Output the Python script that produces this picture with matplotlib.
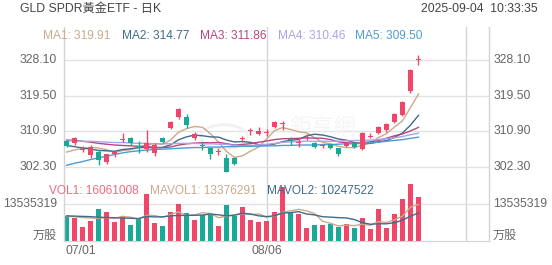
import matplotlib
matplotlib.use('Agg')
import matplotlib.pyplot as plt
from matplotlib.patches import Circle

# daily candles, 45 sessions
opens = [308.5, 308.05, 306.5, 305.2, 305.9, 303.5, 305.5, 308.9, 309.3, 307.3,
         306.6, 305.6, 309.3, 311.7, 314.3, 314.3, 309.3, 307.7, 306.8, 306.0,
         304.4, 304.4, 309.1, 310.9, 310.3, 310.6, 311.9, 312.7, 309.1, 308.0,
         309.4, 308.05, 307.3, 307.8, 306.8, 307.3, 308.05, 306.6, 309.5, 310.5,
         311.2, 313.1, 314.8, 320.6, 328.2]
highs = [308.8, 309.5, 307.3, 307.6, 306.4, 305.4, 306.4, 310.5, 309.5, 308.5,
         311.2, 308.1, 309.5, 313.3, 316.5, 315.1, 310.7, 308.3, 306.8, 306.8,
         305.4, 304.6, 309.7, 311.7, 311.9, 311.4, 313.3, 313.3, 309.5, 309.3,
         310.2, 308.3, 307.8, 308.0, 306.9, 308.3, 308.3, 310.7, 310.5, 312.1,
         312.8, 315.3, 318.1, 325.9, 329.3]
lows = [307.1, 307.6, 306.0, 304.4, 302.7, 303.0, 304.7, 308.3, 307.6, 305.6,
        305.9, 304.9, 308.1, 311.5, 313.8, 311.7, 308.8, 306.4, 304.2, 305.15,
        301.0, 302.8, 308.3, 309.9, 310.1, 309.7, 311.7, 311.2, 307.6, 307.1,
        308.8, 306.8, 307.0, 306.6, 305.0, 307.1, 306.9, 306.4, 309.4, 310.3,
        310.7, 312.9, 314.6, 320.1, 326.9]
closes = [307.3, 309.3, 306.7, 307.1, 303.95, 305.4, 305.8, 309.1, 308.1, 306.8,
          308.1, 307.6, 308.3, 313.1, 316.3, 312.4, 310.2, 307.4, 305.4, 306.2,
          301.05, 303.0, 309.3, 311.1, 311.0, 310.8, 313.1, 313.0, 308.9, 308.2,
          309.6, 307.1, 307.4, 306.9, 305.4, 308.05, 307.1, 310.5, 309.6, 311.9,
          312.6, 315.1, 317.95, 325.7, 328.4]

# moving average lines
ma1 = [305.9, 306.4, 306.8, 307.0, 306.87, 306.49, 305.79, 306.27, 306.47, 307.04,
       307.58, 307.94, 307.78, 308.78, 310.68, 311.54, 312.06, 311.88, 310.34, 308.32,
       306.05, 304.61, 304.99, 306.13, 307.09, 309.04, 311.06, 311.8, 311.36, 310.8,
       310.56, 309.36, 308.24, 307.84, 307.28, 306.97, 306.97, 307.59, 308.13, 309.43,
       310.34, 311.94, 313.43, 316.65, 319.91]
ma2 = [307.5, 307.2, 306.9, 306.6, 306.3, 306.2, 306.1, 306.5, 306.7, 306.96,
       307.04, 306.87, 307.03, 307.63, 308.86, 309.56, 310.0, 309.83, 309.56, 309.5,
       308.8, 308.34, 308.44, 308.24, 307.7, 307.55, 307.84, 308.4, 308.75, 308.95,
       309.8, 310.21, 310.02, 309.6, 309.04, 308.77, 308.17, 307.92, 307.99, 308.36,
       308.66, 309.46, 310.51, 312.39, 314.77]
ma3 = [308.8, 308.7, 308.5, 308.3, 308.0, 307.8, 307.6, 307.5, 307.4, 307.3,
       307.27, 307.04, 306.97, 307.12, 307.58, 307.88, 308.05, 308.17, 308.13, 308.23,
       307.92, 307.6, 307.73, 307.93, 308.28, 308.55, 308.92, 309.11, 309.15, 309.22,
       309.3, 309.27, 309.23, 308.92, 308.37, 308.16, 308.0, 308.16, 308.37, 308.66,
       309.23, 309.83, 310.27, 311.0, 311.86]
ma4 = [308.6, 308.6, 308.5, 308.5, 308.4, 308.3, 308.2, 308.2, 308.1, 308.0,
       308.0, 307.9, 307.9, 307.9, 308.0, 308.0, 308.0, 307.9, 307.9, 307.8,
       307.78, 307.47, 307.46, 307.49, 307.62, 307.77, 307.98, 308.24, 308.34, 308.47,
       308.55, 308.47, 308.5, 308.49, 308.53, 308.63, 308.67, 308.72, 308.77, 308.94,
       309.09, 309.34, 309.66, 310.08, 310.46]
ma5 = [302.7, 303.2, 303.6, 304.1, 304.5, 304.9, 305.3, 305.7, 306.0, 306.2,
       306.4, 306.5, 306.6, 306.7, 306.8, 306.9, 307.0, 307.0, 307.1, 307.1,
       307.2, 307.2, 307.3, 307.3, 307.3, 307.4, 307.4, 307.5, 307.5, 307.6,
       307.6, 307.6, 307.7, 307.7, 307.8, 307.9, 307.9, 308.0, 308.1, 308.3,
       308.5, 308.7, 308.9, 309.2, 309.5]

# volume in millions of shares
volumes = [9.3, 8.3, 5.2, 7.3, 11.6, 10.5, 6.9, 8.9, 5.7, 8.3,
           17.2, 6.5, 5.5, 10.7, 13.4, 10.4, 7.6, 9.5, 9.5, 5.6,
           13.2, 9.3, 12.5, 7.7, 6.9, 7.4, 10.7, 19.9, 10.1, 9.8,
           4.6, 5.9, 5.9, 6.1, 5.0, 6.2, 4.9, 8.5, 4.3, 11.6,
           4.6, 9.8, 15.2, 20.7, 16.06]
mavol1 = [9.0, 8.9, 8.6, 8.4, 8.34, 8.58, 8.3, 9.04, 8.72, 8.06,
          9.4, 9.32, 8.64, 9.64, 10.66, 9.3, 9.52, 10.32, 10.08, 8.52,
          9.08, 9.42, 10.02, 9.66, 9.92, 8.76, 9.04, 10.52, 11.0, 11.58,
          11.02, 10.06, 7.26, 6.46, 5.5, 5.82, 5.62, 6.14, 5.78, 7.1,
          6.78, 7.76, 9.1, 12.38, 13.38]
mavol2 = [9.2, 9.1, 9.0, 8.9, 8.7, 8.6, 8.5, 8.4, 8.3, 8.2,
          8.99, 8.81, 8.84, 9.18, 9.36, 9.35, 9.42, 9.48, 9.86, 9.59,
          9.19, 9.47, 10.17, 9.87, 9.22, 8.92, 9.23, 10.27, 10.33, 10.75,
          9.89, 9.55, 8.89, 8.73, 8.54, 8.42, 7.84, 6.7, 6.12, 6.3,
          6.3, 6.69, 7.62, 9.08, 10.25]

price_ticks = [302.30, 310.90, 319.50, 328.10]
vol_tick = 13535319
date_labels = ['07/01', '08/06']
date_pos = [0, 25]

title = 'GLD SPDR黃金ETF - 日K'
stamp = '2025-09-04  10:33:35'
ma_names = ['MA1', 'MA2', 'MA3', 'MA4', 'MA5']
vol_names = ['VOL1', 'MAVOL1', 'MAVOL2']
vol_values = [16061008, 13376291, 10247522]

RED = '#f0466a'
GREEN = '#18a999'
MA_COLORS = ['#cba98c', '#3f6c8c', '#b4487f', '#aaa3ea', '#4c9dd6']
GRID = '#e2e2e2'
FRAME = '#d4d4d4'
LABEL = '#666666'

W, H = 552.0, 265.0


def fx(px):
    return px / W


def fy(py):
    return 1 - py / H


def style_axes(ax):
    for side in ['top', 'bottom']:
        ax.spines[side].set_visible(False)
    for side in ['left', 'right']:
        ax.spines[side].set_color(FRAME)
        ax.spines[side].set_linewidth(1)
    ax.tick_params(left=False, bottom=False, labelleft=False, labelbottom=False)
    ax.set_xlim(-0.3125, 52.8125)
    for p in [25, 50]:
        ax.axvline(p, color=FRAME, lw=1, zorder=0)


def main():
    plt.rcParams['font.family'] = ['Liberation Sans', 'Noto Sans CJK TC', 'DejaVu Sans']
    fig = plt.figure(figsize=(5.52, 2.65), dpi=100)

    axp = fig.add_axes([fx(64), fy(175), fx(489) - fx(64), fy(27) - fy(175)])
    axv = fig.add_axes([fx(64), fy(241), fx(489) - fx(64), fy(175) - fy(241)])
    style_axes(axp)
    style_axes(axv)

    # price scale: 328.10 at y=60px, 302.30 at y=167px
    k = (167 - 60) / (328.10 - 302.30)
    axp.set_ylim(328.10 - (175 - 60) / k, 328.10 + (60 - 27) / k)
    axv.set_ylim(0, 66 / (37 / (vol_tick / 1e6)))
    axv.spines['bottom'].set_visible(True)
    axv.spines['bottom'].set_color(FRAME)

    for t in price_ticks:
        axp.axhline(t, color=GRID, lw=1, zorder=0)
        axp.annotate('%.2f' % t, xy=(0, t), xycoords=('axes fraction', 'data'),
                     xytext=(-5, 0), textcoords='offset points', ha='right', va='center',
                     fontsize=8.7, color=LABEL)
        axp.annotate('%.2f' % t, xy=(1, t), xycoords=('axes fraction', 'data'),
                     xytext=(3, 0), textcoords='offset points', ha='left', va='center',
                     fontsize=8.7, color=LABEL)
    axv.axhline(vol_tick / 1e6, color=GRID, lw=1, zorder=0)
    for xa, off, ha in [(0, -5, 'right'), (1, 3, 'left')]:
        axv.annotate(str(vol_tick), xy=(xa, vol_tick / 1e6), xycoords=('axes fraction', 'data'),
                     xytext=(off, 0), textcoords='offset points', ha=ha, va='center',
                     fontsize=8.7, color=LABEL)
    fig.text(fx(57), fy(236), '万股', ha='right', va='center', fontsize=8.7, color=LABEL)
    fig.text(fx(493), fy(236), '万股', ha='left', va='center', fontsize=8.7, color=LABEL)

    # faint watermark
    axp.add_patch(Circle((19.7, 309.6), 2.9, transform=axp.transData, fill=False,
                         ec='#f1f1f1', lw=2, zorder=0))
    axp.text(32, 311.5, '鉅亨網', ha='center', va='center', fontsize=16,
             color='#f5f5f5', zorder=0)

    # moving averages
    xs = list(range(len(closes)))
    for line, c in zip([ma1, ma2, ma3, ma4, ma5], MA_COLORS):
        axp.plot(xs, line, color=c, lw=1, zorder=2)

    # candles
    for i in xs:
        up = closes[i] >= opens[i]
        c = RED if up else GREEN
        axp.vlines(i, lows[i], highs[i], color=c, lw=1, zorder=3)
        body = max(abs(closes[i] - opens[i]), 0.25)
        axp.bar(i, body, bottom=min(opens[i], closes[i]), width=0.72, color=c, zorder=4)
        axv.bar(i, volumes[i], width=0.72, color=c, zorder=2)

    axv.plot(xs, mavol1, color=MA_COLORS[0], lw=1, zorder=3)
    axv.plot(xs, mavol2, color=MA_COLORS[1], lw=1, zorder=3)

    # header texts
    fig.text(fx(20), fy(9), title, ha='left', va='center', fontsize=8.8, color='#444444')
    fig.text(fx(538), fy(9), stamp, ha='right', va='center', fontsize=8.8, color='#444444')
    ma_x = [43, 122, 200, 278, 355]
    for name, line, c, px in zip(ma_names, [ma1, ma2, ma3, ma4, ma5], MA_COLORS, ma_x):
        fig.text(fx(px), fy(36), '%s: %.2f' % (name, line[-1]), ha='left', va='center',
                 fontsize=8.6, color=c)
    vol_x = [49, 150, 267]
    vol_colors = ['#ef6b7c', MA_COLORS[0], MA_COLORS[1]]
    for name, v, c, px in zip(vol_names, vol_values, vol_colors, vol_x):
        fig.text(fx(px), fy(191), '%s: %d' % (name, v), ha='left', va='center',
                 fontsize=8.6, color=c)

    fig.text(fx(65), fy(251), date_labels[0], ha='left', va='center', fontsize=8.7, color=LABEL)
    fig.text(fx(66.5 + 8 * date_pos[1]), fy(251), date_labels[1], ha='center', va='center',
             fontsize=8.7, color=LABEL)

    fig.savefig('out.png', dpi=100)


if __name__ == "__main__":
    main()
